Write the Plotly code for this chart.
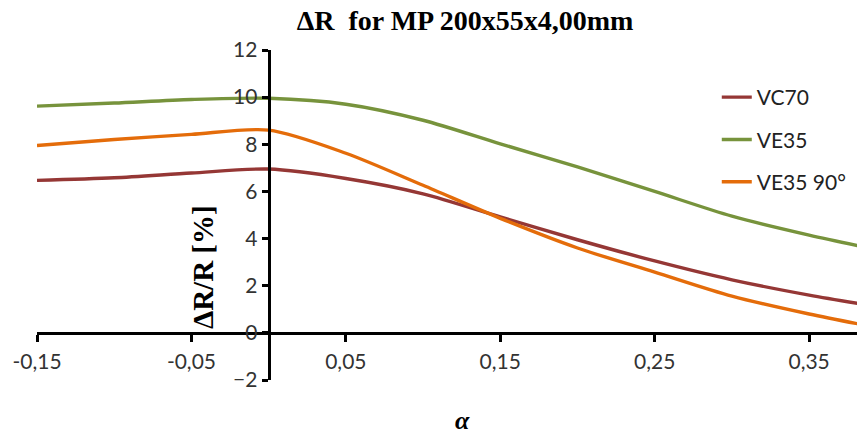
import plotly.graph_objects as go

x_vals = [-0.15, -0.10, -0.05, 0.0, 0.05, 0.10, 0.15, 0.20, 0.25, 0.30, 0.35, 0.40]
vc70 = [6.47, 6.58, 6.78, 6.95, 6.55, 5.90, 4.92, 3.95, 3.05, 2.25, 1.60, 1.05]
ve35 = [9.62, 9.75, 9.90, 9.95, 9.70, 9.02, 8.02, 7.04, 6.00, 4.95, 4.15, 3.45]
ve35_90 = [7.95, 8.20, 8.42, 8.60, 7.62, 6.26, 4.86, 3.60, 2.58, 1.56, 0.80, 0.15]

series_names = ["VC70", "VE35", "VE35 90°"]
series_colors = ["#953735", "#77933C", "#E46C0A"]

x_tickvals = [-0.15, -0.05, 0.05, 0.15, 0.25, 0.35]
x_ticktext = ["-0,15", "-0,05", "0,05", "0,15", "0,25", "0,35"]
y_tickvals = [-2, 0, 2, 4, 6, 8, 10, 12]

x_range = [-0.15, 0.381]
y_range = [-2, 12]

fig = go.Figure()
for i, (name, ys, col) in enumerate(zip(series_names, [vc70, ve35, ve35_90], series_colors)):
    fig.add_trace(go.Scatter(
        x=x_vals, y=ys, name=name, mode="lines",
        line=dict(color=col, width=3.4, shape="spline", smoothing=0.8),
        legendgroup=f"g{i}",
    ))

tick_font = dict(family="Lato, Open Sans, sans-serif", size=21, color="#333333")

fig.update_layout(
    width=857, height=439,
    margin=dict(l=37, r=0, t=50, b=59, autoexpand=False),
    plot_bgcolor="white", paper_bgcolor="white",
    showlegend=True,
    legend=dict(x=0.829, y=(380 - 77) / 330, xanchor="left", yanchor="top",
                font=dict(family="Lato, Open Sans, sans-serif", size=21, color="#222222"),
                tracegroupgap=12, bgcolor="rgba(0,0,0,0)"),
    title=dict(text="<b>ΔR  for MP 200x55x4,00mm</b>", x=465 / 857, xanchor="center",
               y=1 - 20 / 439, yanchor="middle",
               font=dict(family="Liberation Serif, Times New Roman, serif", size=28, color="#000000")),
    xaxis=dict(range=x_range, domain=[0, 1], anchor="free", position=2/14, automargin=False,
               tickvals=x_tickvals, ticktext=x_ticktext,
               showgrid=False, zeroline=False,
               showline=True, linecolor="black", linewidth=3,
               ticks="outside", ticklen=7, tickwidth=3, tickcolor="black",
               tickfont=tick_font, ticklabelstandoff=2),
    yaxis=dict(range=y_range, domain=[0, 1], anchor="free", position=0.15/0.531, automargin=False,
               tickvals=y_tickvals,
               showgrid=False, zeroline=False,
               showline=True, linecolor="black", linewidth=3,
               ticks="outside", ticklen=6, tickwidth=3, tickcolor="black",
               tickfont=tick_font),
    annotations=[
        dict(text="<b>ΔR/R [%]</b>", xref="paper", yref="paper",
             x=(203 - 37) / 820, y=(380 - 267) / 330, textangle=-90, showarrow=False,
             xanchor="center", yanchor="middle",
             font=dict(family="Liberation Serif, Times New Roman, serif", size=29, color="#000000")),
        dict(text="<b><i>α</i></b>", xref="paper", yref="paper",
             x=(462 - 37) / 820, y=(380 - 437) / 330, showarrow=False,
             xanchor="center", yanchor="bottom",
             font=dict(family="Liberation Serif, Times New Roman, serif", size=26, color="#000000")),
    ],
)

# remove the default page margin so the 857x439 figure fills the window exactly
fig.write_html(
    "out.html",
    config={"displayModeBar": False},
    post_script="document.body.style.margin='0';document.body.style.overflow='hidden';",
)
